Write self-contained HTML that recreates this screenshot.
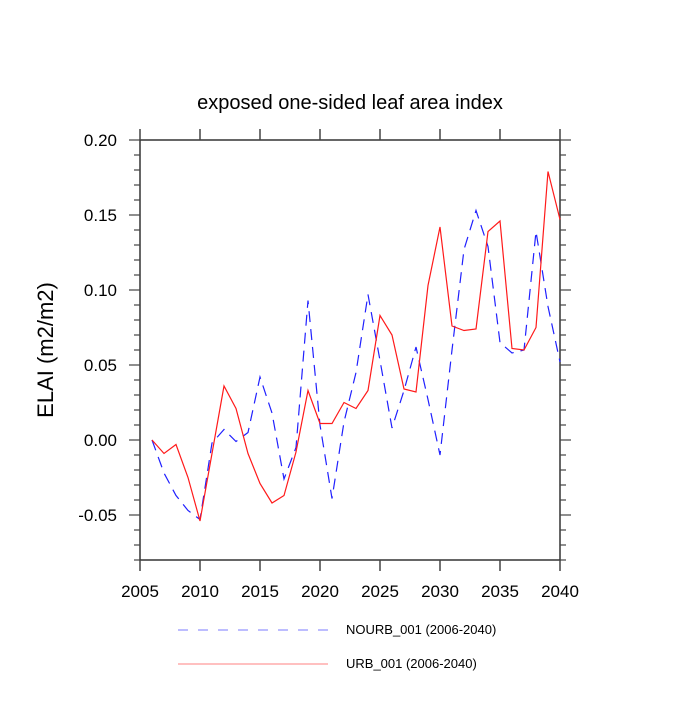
<!DOCTYPE html>
<html><head><meta charset="utf-8"><style>body{margin:0;background:#fff}svg{font-family:"Liberation Sans",sans-serif}</style></head>
<body>
<svg id="c" width="700" height="700">
<text x="350" y="109" font-size="20" text-anchor="middle">exposed one-sided leaf area index</text>
<text transform="translate(53,350) rotate(-90)" font-size="22" text-anchor="middle">ELAI  (m2/m2)</text>
<g id="axes"></g>
<g id="series"></g>
<line x1="178" y1="630" x2="328" y2="630" stroke="#7b7bff" stroke-width="1" stroke-dasharray="10,10"/>
<text x="346" y="634" font-size="13">NOURB_001 (2006-2040)</text>
<line x1="178" y1="664" x2="328" y2="664" stroke="#ff8080" stroke-width="1"/>
<text x="346" y="668" font-size="13">URB_001 (2006-2040)</text>
</svg>
<script>
const years=[2006,2007,2008,2009,2010,2011,2012,2013,2014,2015,2016,2017,2018,2019,2020,2021,2022,2023,2024,2025,2026,2027,2028,2029,2030,2031,2032,2033,2034,2035,2036,2037,2038,2039,2040];
const urb=[0.000,-0.009,-0.003,-0.025,-0.054,-0.009,0.036,0.021,-0.009,-0.029,-0.042,-0.037,-0.008,0.033,0.011,0.011,0.025,0.021,0.033,0.083,0.070,0.034,0.032,0.103,0.142,0.076,0.073,0.074,0.139,0.146,0.061,0.060,0.075,0.179,0.147];
const nourb=[0.000,-0.022,-0.037,-0.047,-0.053,-0.002,0.007,-0.001,0.005,0.042,0.018,-0.026,-0.005,0.093,0.010,-0.039,0.012,0.045,0.097,0.053,0.008,0.033,0.062,0.027,-0.010,0.060,0.127,0.153,0.129,0.065,0.058,0.060,0.139,0.089,0.052];
const xTicks=[2005,2010,2015,2020,2025,2030,2035,2040];
const yTicks=[-0.05,0,0.05,0.10,0.15,0.20];
const yTickLabels=["-0.05","0.00","0.05","0.10","0.15","0.20"];
const X0=140,X1=560,Y0=560,Y1=140,xmin=2005,xmax=2040,ymin=-0.08,ymax=0.20;
const sx=v=>X0+(v-xmin)/(xmax-xmin)*(X1-X0);
const sy=v=>Y0-(v-ymin)/(ymax-ymin)*(Y0-Y1);
const NS="http://www.w3.org/2000/svg";
const mk=(t,a,p)=>{const e=document.createElementNS(NS,t);for(const k in a)e.setAttribute(k,a[k]);p.appendChild(e);return e;};
const ax=document.getElementById('axes');
let f=mk('rect',{x:X0,y:Y1,width:X1-X0,height:Y0-Y1,fill:'none',stroke:'#333','stroke-width':1.5},ax);


xTicks.forEach(t=>{const x=sx(t);
 mk('line',{x1:x,y1:Y0,x2:x,y2:Y0+11,stroke:'#444','stroke-width':1.5},ax);
 mk('line',{x1:x,y1:Y1,x2:x,y2:Y1-11,stroke:'#444','stroke-width':1.5},ax);
 const l=mk('text',{x:x,y:597,'font-size':17,'text-anchor':'middle'},ax);l.textContent=t;
 
 });
for(let i=-8;i<=20;i++){const v=i/100,y=sy(v);const major=(i%5===0);const len=major?11:6;
 mk('line',{x1:X0,y1:y,x2:X0-len,y2:y,stroke:'#444','stroke-width':1.2},ax);
 mk('line',{x1:X1,y1:y,x2:X1+len,y2:y,stroke:'#444','stroke-width':1.2},ax);}
yTicks.forEach((t,i)=>{const l=mk('text',{x:117,y:sy(t)+6,'font-size':17,'text-anchor':'end'},ax);l.textContent=yTickLabels[i];
 
 });
const sg=document.getElementById('series');
const pts=a=>a.map((v,i)=>sx(years[i]).toFixed(1)+','+sy(v).toFixed(1)).join(' ');
const p1=mk('polyline',{points:pts(nourb),fill:'none',stroke:'#2020ff','stroke-width':1.2,'stroke-dasharray':'11,7'},sg);


const p2=mk('polyline',{points:pts(urb),fill:'none',stroke:'#ff1a1a','stroke-width':1.2},sg);


</script>
</body></html>
